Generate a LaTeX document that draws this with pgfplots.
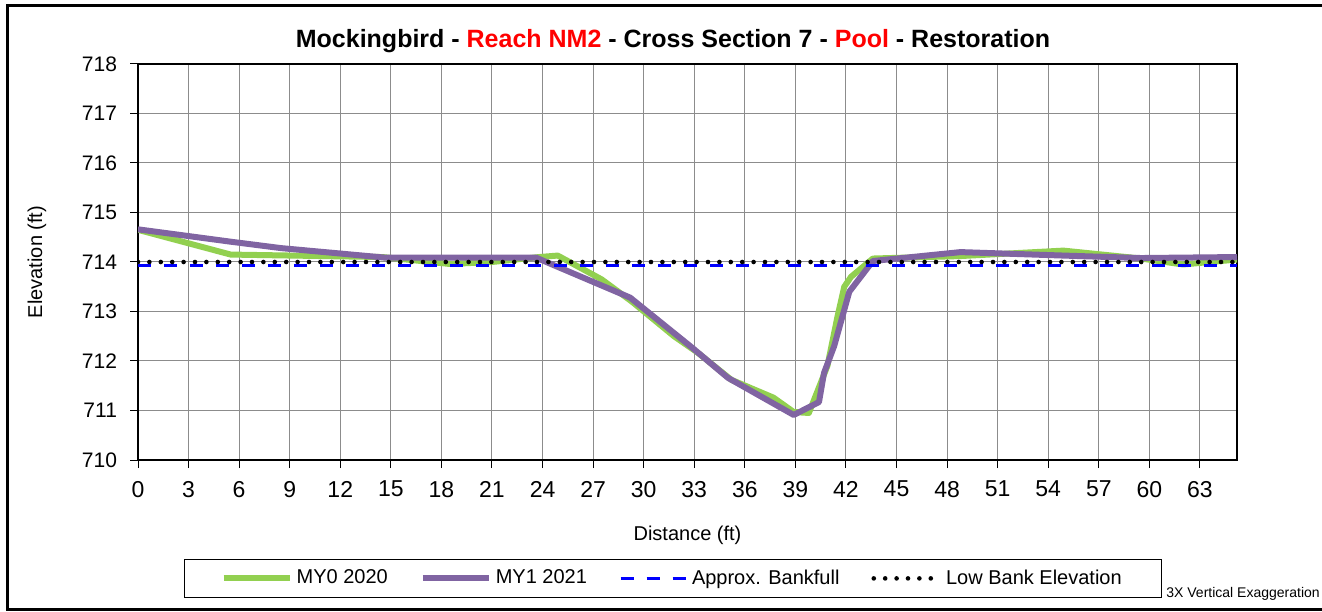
\documentclass[border=0pt]{standalone}
\usepackage{pgfplots}
\pgfplotsset{compat=1.18}
\usepackage{fontspec}
\setmainfont{Liberation Sans}
\definecolor{mygreen}{HTML}{92D050}
\definecolor{mypurple}{HTML}{8064A2}
\begin{document}
\begin{tikzpicture}[x=0.5pt,y=0.5pt]
\path[use as bounding box] (0,0) rectangle (1322,611);
\draw[line width=1.5pt] (1340,605) -- (7.5,605) -- (7.5,2) -- (1340,2);
\begin{axis}[
  at={(69pt,75.5pt)}, anchor=south west,
  width=549.5pt, height=198pt, scale only axis,
  xmin=0, xmax=65.2, ymin=710, ymax=718,
  xtick={0,3,...,63}, ytick={710,711,...,718},
  grid=major, major grid style={black!45, line width=0.5pt},
  axis line style={line width=1pt},
  tick style={black, line width=0.5pt},
  tick align=outside, major tick length=4pt,
  xtick pos=bottom, ytick pos=left,
  /pgf/number format/assume math mode=true,
  /pgf/number format/1000 sep={},
  xticklabel style={font=\fontsize{11.5}{13}\selectfont, yshift=-3pt},
  yticklabel style={font=\fontsize{10.5}{12}\selectfont, xshift=-3pt},
  xlabel={Distance (ft)}, ylabel={Elevation (ft)},
  xlabel style={font=\fontsize{10}{12}\selectfont, at={(axis description cs:0.5,-0.189)}, anchor=center},
  ylabel style={font=\fontsize{10}{12}\selectfont, at={(axis description cs:-0.0919,0.5)}, anchor=center},
  legend columns=4,
  legend style={at={(axis description cs:0.487,-0.299)}, anchor=center,
    draw=black, line width=0.5pt, font=\fontsize{10}{12}\selectfont,
    inner xsep=18pt, inner ysep=3pt,
    /tikz/every even column/.append style={column sep=14pt}},
  legend cell align=left,
  legend image code/.code={\draw[#1] (0pt,0pt) -- (33pt,0pt);},
]
\addplot[mygreen, line width=3pt, line join=round] coordinates {
(0,714.65) (5.5,714.15) (14.5,714.1) (18.5,713.96) (21,714.0) (23.8,714.1)
(24.9,714.13) (27.5,713.65) (29.3,713.2) (31.8,712.5) (33.2,712.17)
(35.2,711.62) (37.7,711.26) (38.9,710.97) (39.8,710.95) (40.9,711.9)
(41.5,712.9) (41.9,713.5) (42.3,713.7) (43.6,714.07) (48.8,714.12)
(54.9,714.23) (59.5,714.07) (62,713.95) (65.2,714.05)};
\addlegendentry{MY0 2020}
\addplot[mypurple, line width=3pt, line join=round] coordinates {
(0,714.66) (5.5,714.41) (8.5,714.28) (14.6,714.09) (23.6,714.09)
(29.2,713.28) (32.8,712.29) (35.0,711.66) (38.9,710.91) (40.4,711.17)
(40.7,711.76) (41.3,712.3) (42.2,713.4) (43.6,714.02) (48.8,714.2)
(54.9,714.13) (59.5,714.08) (65.2,714.1)};
\addlegendentry{MY1 2021}
\addplot[blue, line width=1.5pt, dash pattern=on 6.5pt off 6.5pt] coordinates {
(0,713.93) (65.2,713.93)};
\addlegendentry{Approx. Bankfull}
\addplot[black, line width=2.3pt, line cap=round, dash pattern=on 0pt off 5.7pt] coordinates {
(0,714.0) (65.2,714.0)};
\addlegendentry{Low Bank Elevation}
\end{axis}
\node[font=\bfseries\fontsize{12.5}{14}\selectfont] at (673,570)
  {Mockingbird - \textcolor{red}{Reach NM2} - Cross Section 7 - \textcolor{red}{Pool} - Restoration};
\node[anchor=west, font=\fontsize{7}{8}\selectfont, inner sep=0pt] at (1166,17) {3X Vertical Exaggeration};
\end{tikzpicture}
\end{document}
